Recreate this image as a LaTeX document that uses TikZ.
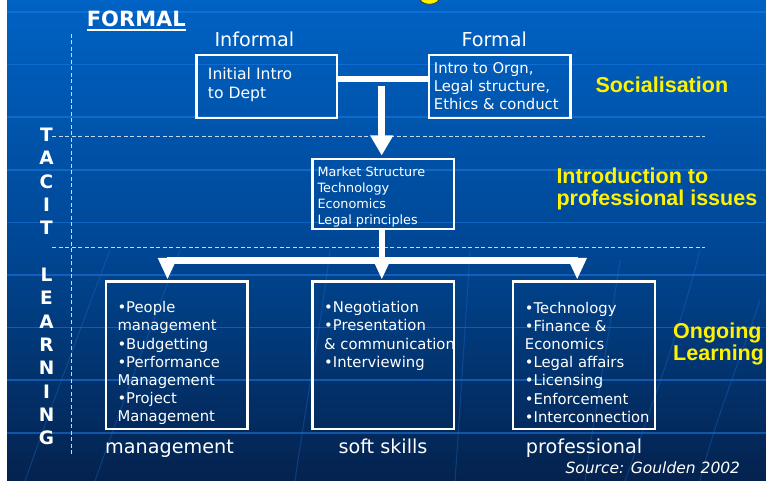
\documentclass[tikz,border=0pt]{standalone}
\usepackage{fontspec}
\setmainfont{DejaVu Sans}
\newfontfamily\yfont{Liberation Sans}
\usetikzlibrary{arrows.meta,calc}
\definecolor{bgtop}{RGB}{0,98,196}
\definecolor{bgmid}{RGB}{0,72,150}
\definecolor{bgbot}{RGB}{4,34,78}
\definecolor{gridc}{RGB}{30,122,228}
\definecolor{dashc}{RGB}{195,218,242}
\begin{document}
\begin{tikzpicture}[x=1pt,y=-1pt,
  box/.style={draw=white,line width=2.3pt,inner sep=0pt,anchor=north west},
  txt/.style={text=white,inner sep=0pt,anchor=base west,align=left},
  ylab/.style={text=yellow,inner sep=0pt,anchor=base west,align=left,font=\yfont\bfseries\fontsize{21.5}{22}\selectfont},
  tac/.style={text=white,inner sep=0pt,anchor=base,font=\bfseries\fontsize{18.5}{19}\selectfont},
  lab/.style={text=white,inner sep=0pt,anchor=base west,font=\fontsize{19.2}{20}\selectfont},
  bar/.style={draw=white,line width=6.5pt},
  arrA/.style={draw=white,line width=6.5pt,-{Triangle[width=21.7pt,length=20pt]}},
  arrB/.style={draw=white,line width=2pt,-{Triangle[width=19pt,length=21pt]}},
  dline/.style={draw=dashc,line width=0.9pt,dash pattern=on 4pt off 2.5pt},
  grid/.style={draw=gridc,line width=1.6pt,opacity=0.55},
  curve/.style={draw=gridc,line width=1pt,opacity=0.3}
]
\useasboundingbox (0,0) rectangle (766,481);
% background
\shade[top color=bgtop,bottom color=bgbot,middle color=bgmid] (0,0) rectangle (766,481);
\foreach \yy in {12,64.6,117.2,169.8,222.4,275,327.6,380.2,432.8}
  \draw[grid] (7,\yy) -- (766,\yy);
\draw[curve] (180,250) .. controls (150,330) and (120,410) .. (95,481);
\draw[curve] (110,250) .. controls (80,330) and (50,410) .. (25,481);
\draw[curve] (330,250) .. controls (320,330) and (305,410) .. (295,481);
\draw[curve] (700,250) .. controls (680,330) and (650,410) .. (625,481);
\draw[curve] (760,300) .. controls (740,360) and (715,420) .. (700,481);
\draw[curve] (620,260) .. controls (610,330) and (595,410) .. (585,481);
\draw[curve] (470,250) .. controls (465,330) and (460,410) .. (455,481);
\fill[white] (0,0) rectangle (7,481);
% cut-off title fragment
\fill[yellow,draw=black!75,line width=0.8pt] (419,-4) .. controls (419,7) and (440,7) .. (440,-4) -- cycle;

% dashed guides
\draw[dline] (71.3,34) -- (71.3,454);
\draw[dline] (52,136.7) -- (705,136.7);
\draw[dline] (52,247.3) -- (705,247.3);

% FORMAL heading
\node[txt,font=\bfseries\fontsize{21}{21}\selectfont] (fm) at (86.7,26.7) {FORMAL};
\draw[white,line width=1.8pt] ($(fm.base west)+(0,3.5)$) -- ($(fm.base east)+(0,3.5)$);

% TACIT LEARNING
\foreach \ch [count=\k from 0] in {T,A,C,I,T}
  \node[tac] (t\k) at (46.5,141.7+23.3*\k) {\ch};
\foreach \ch [count=\k from 6] in {L,E,A,R,N,I,N,G}
  \node[tac] (l\k) at (46.5,141.7+23.3*\k) {\ch};

% top row
\node[lab] (linf) at (214.3,46.7) {Informal};
\node[lab] (lfrm) at (461.3,46.7) {Formal};
\node[box,minimum width=140.3pt,minimum height=63.4pt] (inf) at (195.2,53.8) {};
\node[box,minimum width=141.7pt,minimum height=63.4pt] (frm) at (427.5,53.8) {};
\node[txt,font=\fontsize{15.6}{19.7}\selectfont] (tinf) at (207.7,99) {Initial Intro\\to Dept};
\node[txt,font=\fontsize{14.8}{18}\selectfont] (tfrm) at (433.7,109.3) {Intro to Orgn,\\Legal structure,\\Ethics \& conduct};
\node[ylab] (soc) at (595.3,92.3) {Socialisation};

% middle
\node[box,minimum width=141.3pt,minimum height=70.1pt] (mkt) at (311.2,157.8) {};
\node[txt,font=\fontsize{12.8}{15.8}\selectfont] (tmkt) at (317.3,224.1) {Market Structure\\Technology\\Economics\\Legal principles};
\node[ylab] (intro) at (556.3,205.3) {Introduction to\\professional issues};

% bottom boxes
\node[box,minimum width=141.7pt,minimum height=147.5pt] (bA) at (104.5,280.4) {};
\node[box,minimum width=141.3pt,minimum height=147.5pt] (bB) at (311.2,280.4) {};
\node[box,minimum width=141.7pt,minimum height=147.5pt] (bC) at (511.8,280.4) {};
\node[txt,font=\fontsize{14.8}{18.2}\selectfont] (tA) at (117.3,421.8) {•People\\management\\•Budgetting\\•Performance\\Management\\•Project\\Management};
\begin{scope}
\clip (311.2,282) rectangle (452.5,427);
\node[txt,font=\fontsize{14.8}{18.2}\selectfont] (tB) at (324,367.2) {•Negotiation\\•Presentation\\\& communication\\•Interviewing};
\end{scope}
\node[txt,font=\fontsize{14.8}{18.2}\selectfont] (tC) at (524.7,422.2) {•Technology\\•Finance \&\\Economics\\•Legal affairs\\•Licensing\\•Enforcement\\•Interconnection};
\node[ylab] (ong) at (673,360.3) {Ongoing\\Learning};

\node[lab] (lA) at (105,453.3) {management};
\node[lab] (lB) at (338.3,453.3) {soft skills};
\node[lab] (lC) at (525.7,453.3) {professional};
\node[text=white,inner sep=0pt,anchor=base east,font=\itshape\fontsize{15.5}{16}\selectfont] (src) at (740.3,473.3) {Source: Goulden 2002};

% connectors
\coordinate (j1) at (381.7,86);
\draw[bar] (inf.east |- 0,79.2) -- (frm.west |- 0,79.2);
\draw[arrA] (j1) -- (j1 |- 0,155.5);
\coordinate (bm) at (381.8,260.3);
\coordinate (bl) at (167.5,260.3);
\coordinate (br) at (577.2,260.3);
\draw[white,line width=6.5pt] (mkt.south -| bm) -- (bm);
\draw[white,line width=7.3pt] (bl) -- (br);
\draw[arrB] (bl |- 0,257) -- (bl |- 0,279);
\draw[arrB] (bm |- 0,257) -- (bm |- 0,279);
\draw[arrB] (br |- 0,257) -- (br |- 0,279);
\end{tikzpicture}
\end{document}
